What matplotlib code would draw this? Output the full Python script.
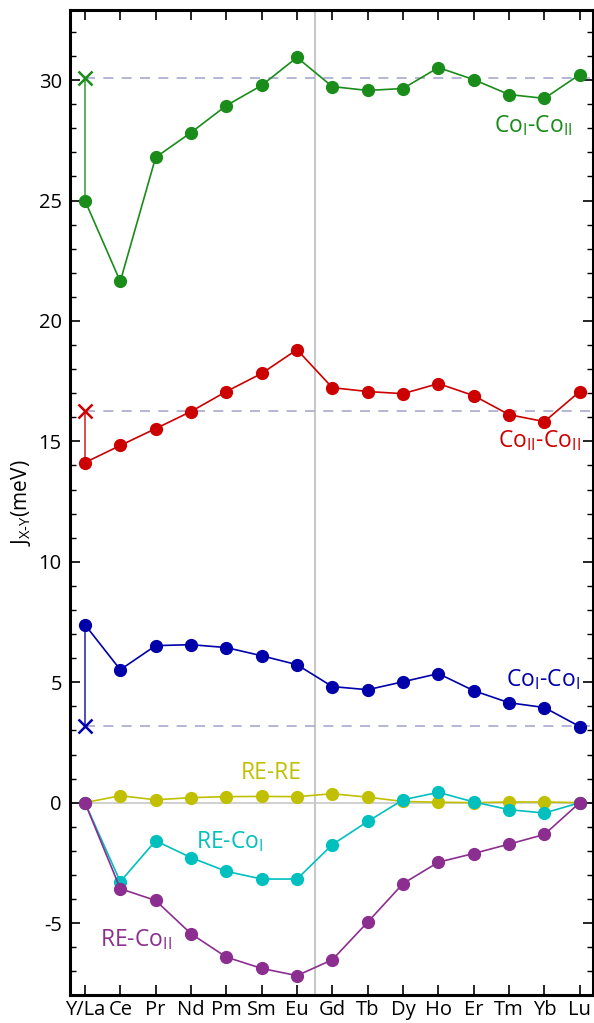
import matplotlib
matplotlib.use("Agg")
import matplotlib.pyplot as plt
from matplotlib.ticker import MultipleLocator

plt.rcParams['font.family'] = ['Open Sans', 'DejaVu Sans']
plt.rcParams['mathtext.fontset'] = 'custom'
plt.rcParams['mathtext.rm'] = 'Open Sans'

elements = ["Y/La", "Ce", "Pr", "Nd", "Pm", "Sm", "Eu", "Gd", "Tb", "Dy", "Ho", "Er", "Tm", "Yb", "Lu"]

coI_coII = [25.0, 21.64, 26.79, 27.82, 28.94, 29.78, 30.94, 29.73, 29.57, 29.65, 30.52, 30.02, 29.4, 29.24, 30.23]
coII_coII = [14.12, 14.83, 15.53, 16.24, 17.07, 17.82, 18.81, 17.23, 17.07, 16.98, 17.40, 16.90, 16.11, 15.82, 17.07]
coI_coI = [7.39, 5.52, 6.52, 6.56, 6.44, 6.10, 5.73, 4.82, 4.69, 5.02, 5.36, 4.65, 4.15, 3.95, 3.16]
re_re = [0.0, 0.29, 0.12, 0.21, 0.25, 0.26, 0.25, 0.37, 0.23, 0.05, 0.02, 0.0, 0.03, 0.03, 0.0]
re_coI = [0.0, -3.28, -1.58, -2.28, -2.85, -3.17, -3.17, -1.74, -0.78, 0.12, 0.43, 0.03, -0.29, -0.43, 0.0]
re_coII = [0.0, -3.57, -4.06, -5.44, -6.41, -6.88, -7.18, -6.52, -4.96, -3.36, -2.47, -2.11, -1.72, -1.32, 0.0]

# reference (cross) values at Y/La
ref_coI_coII = 30.1
ref_coII_coII = 16.28
ref_coI_coI = 3.18

c_green = "#1a8c1a"
c_red = "#cc0000"
c_blue = "#0000aa"
c_yellow = "#c0c000"
c_cyan = "#00bfbf"
c_purple = "#8b2e8f"

fig = plt.figure(figsize=(5.94, 10.23), dpi=100)
ax = fig.add_axes([0.118, 0.027, 0.880, 0.963])

x = list(range(len(elements)))
xmin, xmax = -0.42, 14.37

ax.axhline(0, color="#c8c8c8", lw=1.2, zorder=1)
ax.axvline(6.5, color="#c8c8c8", lw=1.5, zorder=1)

for ref, col, first in [(ref_coI_coII, c_green, coI_coII[0]),
                        (ref_coII_coII, c_red, coII_coII[0]),
                        (ref_coI_coI, c_blue, coI_coI[0])]:
    ax.plot([0, xmax], [ref, ref], color="#a8a8d0", lw=1.2, ls=(0, (6, 5)), zorder=1)
    ax.plot([0, 0], [first, ref], color=col, lw=1.3, alpha=0.75, zorder=2)
    ax.plot([0], [ref], marker="x", color=col, ms=10, mew=1.8, zorder=3, ls="none")

for data, col in [(coI_coII, c_green), (coII_coII, c_red), (coI_coI, c_blue),
                  (re_re, c_yellow), (re_coI, c_cyan), (re_coII, c_purple)]:
    ax.plot(x, data, color=col, lw=1.2, marker="o", ms=8.5, zorder=4)

fs = 16.5
ax.text(12.7, 28.1, r"Co$_{\mathrm{I}}$-Co$_{\mathrm{II}}$", color=c_green, fontsize=fs, ha="center", va="center")
ax.text(12.85, 15.05, r"Co$_{\mathrm{II}}$-Co$_{\mathrm{II}}$", color=c_red, fontsize=fs, ha="center", va="center")
ax.text(12.95, 5.1, r"Co$_{\mathrm{I}}$-Co$_{\mathrm{I}}$", color=c_blue, fontsize=fs, ha="center", va="center")
ax.text(5.26, 1.25, "RE-RE", color=c_yellow, fontsize=fs, ha="center", va="center")
ax.text(4.1, -1.6, r"RE-Co$_{\mathrm{I}}$", color=c_cyan, fontsize=fs, ha="center", va="center")
ax.text(1.44, -5.7, r"RE-Co$_{\mathrm{II}}$", color=c_purple, fontsize=fs, ha="center", va="center")

ax.set_xlim(xmin, xmax)
ax.set_ylim(-8, 32.9)
ax.set_xticks(x)
ax.set_xticklabels(elements, fontsize=14.5)
ax.set_yticks([-5, 0, 5, 10, 15, 20, 25, 30])
ax.set_yticklabels(["-5", "0", "5", "10", "15", "20", "25", "30"], fontsize=14.5)
ax.yaxis.set_minor_locator(MultipleLocator(1))
ax.tick_params(axis="both", which="major", direction="in", length=7, width=1.2, top=True, right=True, pad=6)
ax.tick_params(axis="y", which="minor", direction="in", length=4, width=1.0, left=True, right=True)
ax.tick_params(axis="x", which="major", pad=3)
for s in ax.spines.values():
    s.set_linewidth(2.2)

ax.set_ylabel(r"J$_{\mathrm{X\text{-}Y}}$(meV)", fontsize=15, labelpad=4)

fig.savefig("out.png", dpi=100)
